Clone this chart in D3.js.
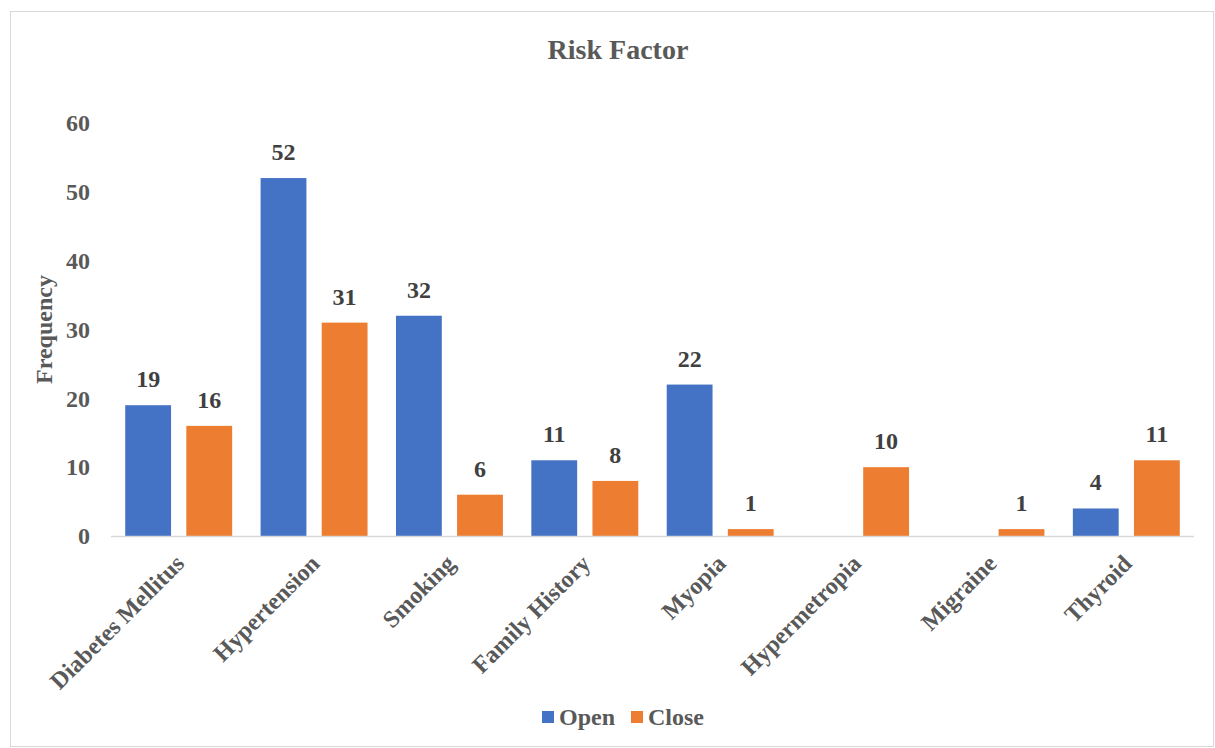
<!DOCTYPE html>
<html>
<head>
<meta charset="utf-8">
<script src="https://cdn.jsdelivr.net/npm/d3@7"></script>
<style>
  body { margin: 0; background: #fff; }
  text { font-family: "Liberation Serif", "Times New Roman", serif; font-weight: bold; }
</style>
</head>
<body>
<div id="chart"></div>
<script>
const WIDTH = 1215;
const HEIGHT = 748;

const categories = ['Diabetes Mellitus', 'Hypertension', 'Smoking', 'Family History',
  'Myopia', 'Hypermetropia', 'Migraine', 'Thyroid'];
const openValues = [19, 52, 32, 11, 22, null, null, 4];
const closeValues = [16, 31, 6, 8, 1, 10, 1, 11];
const seriesNames = ['Open', 'Close'];
const colors = ['#4472C4', '#ED7D31'];
const yTicks = [0, 10, 20, 30, 40, 50, 60];

const margin = { left: 111, right: 21, top: 123, bottom: 212 };

const svg = d3.select('#chart').append('svg')
  .attr('width', WIDTH)
  .attr('height', HEIGHT);

// outer frame
svg.append('rect')
  .attr('x', 10.5).attr('y', 11.5)
  .attr('width', 1203).attr('height', 735)
  .attr('fill', '#fff')
  .attr('stroke', '#d9d9d9');

svg.append('text')
  .attr('x', 618).attr('y', 59)
  .attr('text-anchor', 'middle')
  .attr('font-size', 28)
  .attr('fill', '#595959')
  .text('Risk Factor');

const x0 = d3.scaleBand()
  .domain(categories)
  .range([margin.left, WIDTH - margin.right])
  .paddingInner(0.21)
  .paddingOuter(0.105);

const x1 = d3.scaleBand()
  .domain(seriesNames)
  .range([0, x0.bandwidth()])
  .paddingInner(0.25);

const y = d3.scaleLinear()
  .domain([0, 60])
  .range([HEIGHT - margin.bottom, margin.top]);

// y axis labels
const yAxis = svg.append('g')
  .attr('transform', `translate(${margin.left - 21}, 0)`)
  .call(d3.axisLeft(y).tickValues(yTicks).tickSize(0).tickPadding(0));
yAxis.select('.domain').remove();
yAxis.selectAll('text')
  .attr('font-size', 24)
  .attr('fill', '#595959')
  .attr('font-family', null);

svg.append('text')
  .attr('transform', `translate(52, ${(y(0) + y(60)) / 2}) rotate(-90)`)
  .attr('text-anchor', 'middle')
  .attr('font-size', 24)
  .attr('fill', '#595959')
  .text('Frequency');

const series = [openValues, closeValues];

series.forEach((vals, si) => {
  const g = svg.append('g');
  const data = categories.map((c, i) => ({ c, v: vals[i] })).filter(d => d.v != null);
  g.selectAll('rect').data(data).join('rect')
    .attr('x', d => x0(d.c) + x1(seriesNames[si]))
    .attr('y', d => y(d.v))
    .attr('width', x1.bandwidth())
    .attr('height', d => y(0) - y(d.v))
    .attr('fill', colors[si]);
  g.selectAll('text').data(data).join('text')
    .attr('x', d => x0(d.c) + x1(seriesNames[si]) + x1.bandwidth() / 2)
    .attr('y', d => y(d.v) - 18)
    .attr('text-anchor', 'middle')
    .attr('font-size', 24)
    .attr('fill', '#404040')
    .text(d => d.v);
});

// x axis
const xAxis = svg.append('g')
  .attr('transform', `translate(0, ${y(0)})`)
  .call(d3.axisBottom(x0).tickSize(0).tickPadding(0));
xAxis.select('.domain')
  .attr('stroke', '#d9d9d9')
  .attr('stroke-width', 1.5)
  .attr('d', `M${margin.left},0.5H${WIDTH - margin.right}`);
xAxis.selectAll('.tick text')
  .attr('font-size', 24)
  .attr('fill', '#595959')
  .attr('font-family', null)
  .attr('text-anchor', 'end')
  .attr('dy', null)
  .attr('transform', 'translate(7, 29) rotate(-45)');

// legend
const legend = svg.append('g').attr('transform', 'translate(542, 711)');
const legendX = [0, 89];
seriesNames.forEach((name, i) => {
  legend.append('rect')
    .attr('x', legendX[i]).attr('y', 0)
    .attr('width', 12).attr('height', 12)
    .attr('fill', colors[i]);
  legend.append('text')
    .attr('x', legendX[i] + 17).attr('y', 14)
    .attr('font-size', 24)
    .attr('fill', '#595959')
    .text(name);
});
</script>
</body>
</html>
